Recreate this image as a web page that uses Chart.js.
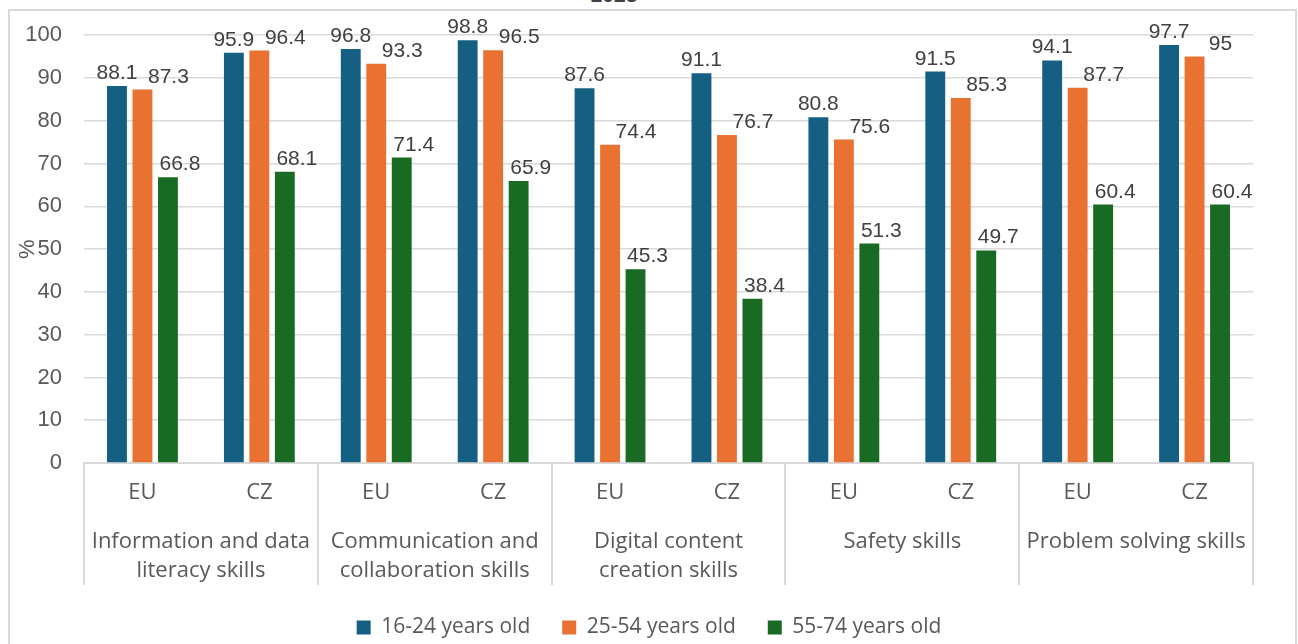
<!DOCTYPE html>
<html>
<head>
<meta charset="utf-8">
<script src="https://cdn.jsdelivr.net/npm/chart.js@4.4.1/dist/chart.umd.min.js"></script>
<style>
  html, body { margin: 0; padding: 0; background: #ffffff; overflow: hidden; }
  #wrap { position: relative; width: 1298px; height: 644px; overflow: hidden; }
  #frame { position: absolute; left: 8px; top: 9px; width: 1289px; height: 700px; border: 2px solid #d9d9d9; box-sizing: border-box; }
  #title { position: absolute; left: 0; width: 1228px; top: -17px; text-align: center; font: bold 21px "Liberation Sans", Arial, sans-serif; color: #404040; }
  canvas { position: absolute; left: 0; top: 0; }
</style>
</head>
<body>
<div id="wrap">
  <div id="frame"></div>
  <div id="title">2023</div>
  <canvas id="c" width="1298" height="648"></canvas>
</div>
<script>
const categories = ['EU', 'CZ', 'EU', 'CZ', 'EU', 'CZ', 'EU', 'CZ', 'EU', 'CZ'];
const groups = [
  ['Information and data', 'literacy skills'],
  ['Communication and', 'collaboration skills'],
  ['Digital content', 'creation skills'],
  ['Safety skills'],
  ['Problem solving skills']
];
const seriesNames = ['16-24 years old', '25-54 years old', '55-74 years old'];
const age16_24 = [88.1, 95.9, 96.8, 98.8, 87.6, 91.1, 80.8, 91.5, 94.1, 97.7];
const age25_54 = [87.3, 96.4, 93.3, 96.5, 74.4, 76.7, 75.6, 85.3, 87.7, 95];
const age55_74 = [66.8, 68.1, 71.4, 65.9, 45.3, 38.4, 51.3, 49.7, 60.4, 60.4];
const yMin = 0, yMax = 100, yStep = 10;

const colors = ['#156082', '#E97132', '#196B24'];
const labelNudge = [0, 26, 12];
const numFont = '"Liberation Sans", Arial, sans-serif';
const catFont = '"Open Sans", Lato, "Liberation Sans", sans-serif';

const dataLabels = {
  id: 'dataLabels',
  afterDatasetsDraw(chart) {
    const ctx = chart.ctx;
    ctx.save();
    ctx.font = '21px ' + numFont;
    ctx.fillStyle = '#404040';
    ctx.textAlign = 'center';
    ctx.textBaseline = 'alphabetic';
    chart.data.datasets.forEach((ds, i) => {
      const meta = chart.getDatasetMeta(i);
      meta.data.forEach((el, j) => {
        ctx.fillText(String(ds.data[j]), el.x + labelNudge[i], el.y - 7);
      });
    });
    ctx.restore();
  }
};

const separators = {
  id: 'separators',
  afterDraw(chart) {
    const xs = chart.scales.x;
    const ctx = chart.ctx;
    const n = groups.length;
    const w = xs.width / n;
    ctx.save();
    ctx.strokeStyle = '#d9d9d9';
    ctx.lineWidth = 2;
    for (let k = 0; k <= n; k++) {
      const x = Math.round(xs.left + k * w);
      ctx.beginPath();
      ctx.moveTo(x, chart.chartArea.bottom);
      ctx.lineTo(x, chart.chartArea.bottom + 122);
      ctx.stroke();
    }
    ctx.restore();
  }
};

new Chart(document.getElementById('c'), {
  type: 'bar',
  data: {
    labels: categories,
    datasets: [
      { label: seriesNames[0], data: age16_24, backgroundColor: colors[0] },
      { label: seriesNames[1], data: age25_54, backgroundColor: colors[1] },
      { label: seriesNames[2], data: age55_74, backgroundColor: colors[2] }
    ]
  },
  options: {
    responsive: false,
    animation: false,
    devicePixelRatio: 1,
    categoryPercentage: 0.654,
    barPercentage: 0.78,
    layout: { padding: { top: 34, right: 0, left: 0, bottom: 0 } },
    plugins: {
      title: { display: false },
      tooltip: { enabled: false },
      legend: {
        position: 'bottom',
        labels: {
          boxWidth: 14, boxHeight: 14, padding: 32,
          color: '#595959',
          font: { family: catFont, size: 21 }
        }
      }
    },
    scales: {
      y: {
        min: yMin, max: yMax,
        afterFit(s) { s.width = 84; },
        ticks: { stepSize: yStep, padding: 22, color: '#595959', font: { family: numFont, size: 22 } },
        grid: { color: '#d9d9d9', lineWidth: 1.5, drawTicks: false },
        border: { display: false },
        title: { display: true, text: '%', color: '#595959', font: { family: numFont, size: 22 }, padding: { top: 15, bottom: 0 } }
      },
      yRight: {
        position: 'right',
        min: yMin, max: yMax,
        afterFit(s) { s.width = 45; },
        ticks: { display: false },
        grid: { display: false, drawTicks: false },
        border: { display: false }
      },
      x: {
        afterFit(s) { s.height = 50; },
        ticks: { padding: 17, color: '#595959', font: { family: catFont, size: 22 } },
        grid: { display: false, drawTicks: false },
        border: { display: true, color: '#d9d9d9', width: 2 }
      },
      x2: {
        type: 'category',
        position: 'bottom',
        labels: groups,
        afterFit(s) { s.height = 72; },
        ticks: { padding: 14, color: '#595959', font: { family: catFont, size: 22, lineHeight: 1.32 } },
        grid: { display: false, drawTicks: false },
        border: { display: false }
      }
    }
  },
  plugins: [dataLabels, separators]
});
</script>
</body>
</html>
